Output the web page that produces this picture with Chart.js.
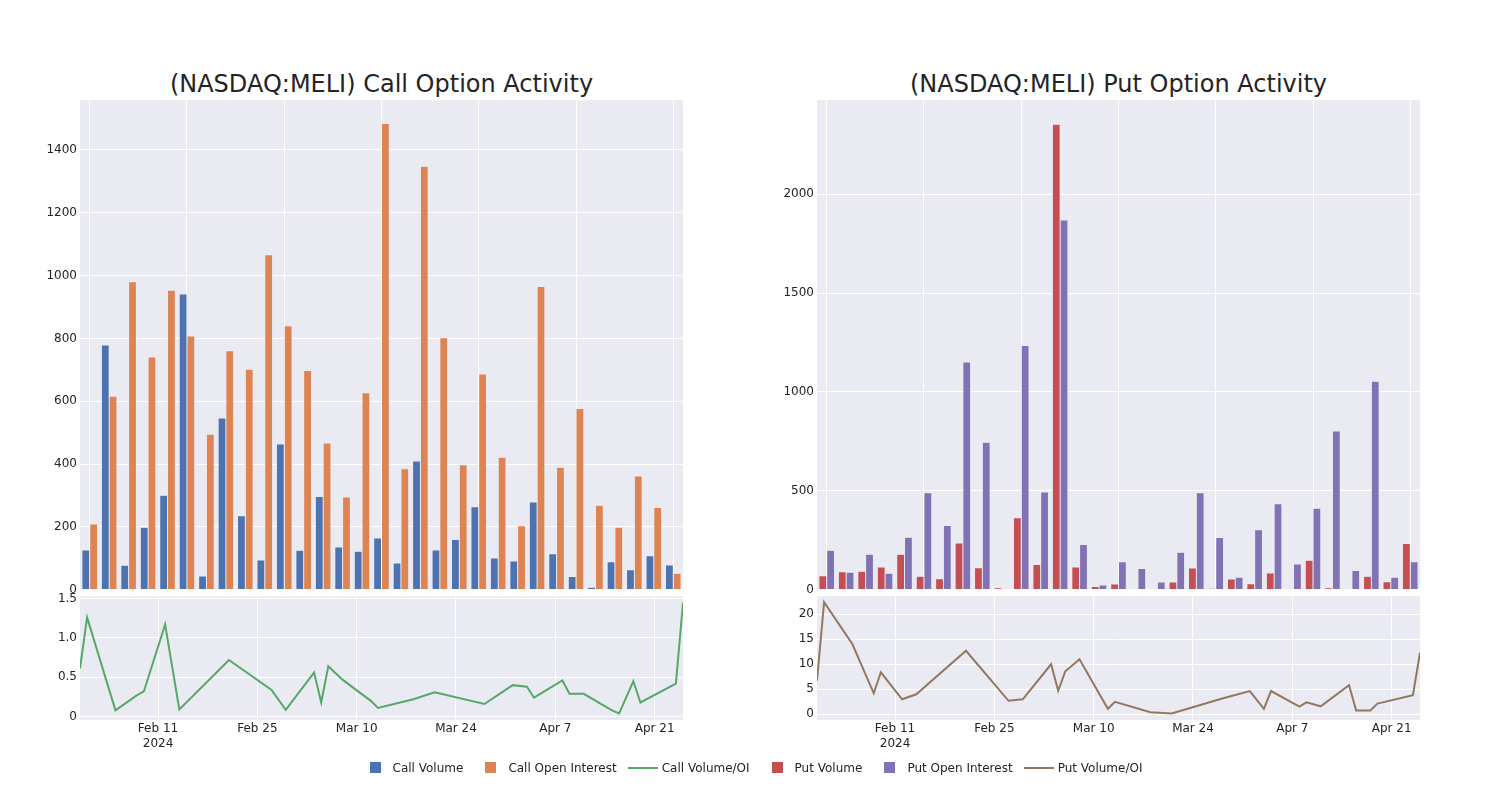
<!DOCTYPE html>
<html>
<head>
<meta charset="utf-8">
<script src="https://cdn.jsdelivr.net/npm/chart.js@4.4.1/dist/chart.umd.min.js"></script>
<style>
    body { margin: 0; background: #fff; font-family: 'DejaVu Sans', sans-serif; color: #242424; }
    #wrap { position: relative; width: 1500px; height: 800px; overflow: hidden; }
    .title { position: absolute; top: 68px; height: 32px; line-height: 32px; font-size: 24px; text-align: center; color: #242424; white-space: nowrap; }
    canvas { position: absolute; }
    #legend { position: absolute; top: 758px; left: 0; width: 1500px; height: 20px; display: flex; justify-content: center; font-size: 12px; }
    .item { display: flex; align-items: center; margin-right: 5px; }
    .icon { position: relative; width: 40px; height: 20px; }
    .sq { position: absolute; left: 17px; top: 4px; width: 11px; height: 11px; }
    .ln { position: absolute; left: 6px; top: 9px; width: 30px; height: 2px; }
</style>
</head>
<body>
<div id="wrap">
    <div class="title" style="left:80px;width:603px">(NASDAQ:MELI) Call Option Activity</div>
    <div class="title" style="left:817px;width:603px">(NASDAQ:MELI) Put Option Activity</div>
    <canvas id="callBar" width="700" height="510" style="left:0;top:90px"></canvas>
    <canvas id="callLine" width="700" height="180" style="left:0;top:586px"></canvas>
    <canvas id="putBar" width="700" height="510" style="left:740px;top:90px"></canvas>
    <canvas id="putLine" width="700" height="180" style="left:740px;top:586px"></canvas>
    <div id="legend"></div>
</div>
<script>
// trading days shown on both panels
const dates = ['2024-01-31', '2024-02-01', '2024-02-05', '2024-02-08', '2024-02-09', '2024-02-12',
    '2024-02-14', '2024-02-21', '2024-02-27', '2024-02-29', '2024-03-04', '2024-03-05', '2024-03-06',
    '2024-03-08', '2024-03-12', '2024-03-13', '2024-03-18', '2024-03-21', '2024-03-28', '2024-04-01',
    '2024-04-03', '2024-04-04', '2024-04-08', '2024-04-09', '2024-04-11', '2024-04-15', '2024-04-16',
    '2024-04-18', '2024-04-19', '2024-04-24', '2024-04-25'];

const callVolume = [127, 779, 78, 199, 301, 941, 44, 547, 236, 95, 464, 126, 297, 136, 123, 165,
    85, 410, 127, 160, 264, 101, 92, 279, 115, 42, 8, 89, 64, 108, 79];
const callOI = [209, 616, 980, 741, 953, 808, 495, 761, 702, 1066, 840, 698, 467, 295, 627, 1484,
    385, 1348, 802, 398, 687, 422, 204, 965, 390, 577, 269, 199, 362, 262, 53];
const callRatio = [0.61, 1.26, 0.08, 0.27, 0.32, 1.17, 0.09, 0.72, 0.34, 0.085, 0.56, 0.18, 0.64,
    0.47, 0.2, 0.11, 0.22, 0.31, 0.16, 0.4, 0.38, 0.24, 0.46, 0.29, 0.29, 0.08, 0.04, 0.45, 0.18, 0.42, 1.45];

const putVolume = [71, 91, 94, 115, 180, 69, 56, 236, 111, 10, 364, 128, 2354, 115, 17, 29,
    1, 3, 39, 110, 8, 54, 31, 85, 2, 149, 10, 1, 69, 41, 234];
const putOI = [200, 89, 180, 84, 266, 490, 325, 1151, 746, 5, 1235, 494, 1870, 229, 24, 142,
    108, 39, 190, 490, 264, 63, 303, 435, 130, 412, 803, 98, 1054, 63, 142];
const putRatio = [6.7, 22.4, 14.0, 4.2, 8.4, 3.0, 4.0, 12.7, 2.7, 3.0, 10.0, 4.7, 8.6, 11.0, 1.1,
    2.5, 0.4, 0.15, 3.1, 4.65, 1.1, 4.65, 1.55, 2.4, 1.6, 5.8, 0.75, 0.75, 2.15, 3.8, 12.3];

const dateTicks = ['2024-02-11', '2024-02-25', '2024-03-10', '2024-03-24', '2024-04-07', '2024-04-21'];
const callTicks = [0, 200, 400, 600, 800, 1000, 1200, 1400];
const putTicks = [0, 500, 1000, 1500, 2000];

const COLORS = {
    callVol: '#4C72B0', callOI: '#DD8452', callRatio: '#55A868',
    putVol: '#C44E52', putOI: '#8172B3', putRatio: '#937860'
};
const MONTHS = ['Jan', 'Feb', 'Mar', 'Apr', 'May', 'Jun', 'Jul', 'Aug', 'Sep', 'Oct', 'Nov', 'Dec'];

Chart.defaults.font.family = "'DejaVu Sans', sans-serif";
Chart.defaults.font.size = 12;
Chart.defaults.color = '#242424';
Chart.defaults.animation = false;

const dayOf = s => Date.UTC(+s.slice(0, 4), +s.slice(5, 7) - 1, +s.slice(8, 10)) / 86400000;

// grey plot background like the seaborn template
const plotBg = {
    id: 'plotBg',
    beforeDraw(chart) {
        const a = chart.chartArea, ctx = chart.ctx;
        ctx.save();
        ctx.fillStyle = '#EAEAF2';
        ctx.fillRect(a.left, a.top, a.right - a.left, a.bottom - a.top);
        ctx.restore();
    }
};

function barChart(id, vol, oi, colVol, colOI, yMax, ticks, axisWidth, padRight) {
    const ctx = document.getElementById(id).getContext('2d');
    return new Chart(ctx, {
        type: 'bar',
        data: {
            labels: dates,
            datasets: [
                { data: vol, backgroundColor: colVol, borderColor: 'rgba(234,234,242,0.8)', borderWidth: 0.5 },
                { data: oi, backgroundColor: colOI, borderColor: 'rgba(234,234,242,0.8)', borderWidth: 0.5 }
            ]
        },
        options: {
            responsive: false,
            layout: { padding: { top: 10, right: padRight, bottom: 10, left: 0 } },
            categoryPercentage: 0.8,
            barPercentage: 1.0,
            plugins: { legend: { display: false }, tooltip: { enabled: false } },
            scales: {
                x: {
                    ticks: { display: false, autoSkip: false },
                    grid: {
                        offset: false,
                        drawTicks: false,
                        color: c => (c.index % 5 === 0 ? '#ffffff' : 'rgba(0,0,0,0)')
                    },
                    border: { display: false },
                    afterFit: s => { s.height = 0; }
                },
                y: {
                    min: 0,
                    max: yMax,
                    afterBuildTicks: s => { s.ticks = ticks.map(v => ({ value: v })); },
                    ticks: { padding: 3, callback: v => String(v) },
                    grid: { color: '#ffffff', drawTicks: false },
                    border: { display: false },
                    afterFit: s => { s.width = axisWidth; }
                }
            }
        },
        plugins: [plotBg]
    });
}

function lineChart(id, ratio, color, yMin, yMax, step, axisWidth, padRight) {
    const ctx = document.getElementById(id).getContext('2d');
    const points = dates.map((d, i) => ({ x: dayOf(d), y: ratio[i] }));
    return new Chart(ctx, {
        type: 'line',
        data: {
            datasets: [{
                data: points, borderColor: color, borderWidth: 2,
                pointRadius: 0, tension: 0, fill: false
            }]
        },
        options: {
            responsive: false,
            layout: { padding: { top: 10, right: padRight, bottom: 0, left: 0 } },
            plugins: { legend: { display: false }, tooltip: { enabled: false } },
            scales: {
                x: {
                    type: 'linear',
                    min: dayOf(dates[0]),
                    max: dayOf(dates[dates.length - 1]),
                    afterBuildTicks: s => { s.ticks = dateTicks.map(d => ({ value: dayOf(d) })); },
                    ticks: {
                        padding: 2,
                        maxRotation: 0,
                        callback: (v, i) => {
                            const d = new Date(v * 86400000);
                            const lbl = MONTHS[d.getUTCMonth()] + ' ' + d.getUTCDate();
                            return i === 0 ? [lbl, String(d.getUTCFullYear())] : lbl;
                        }
                    },
                    grid: { color: '#ffffff', drawTicks: false },
                    border: { display: false },
                    afterFit: s => { s.height = 46; }
                },
                y: {
                    min: yMin,
                    max: yMax,
                    ticks: { stepSize: step, includeBounds: false, padding: 3 },
                    grid: { color: '#ffffff', drawTicks: false },
                    border: { display: false },
                    afterFit: s => { s.width = axisWidth; }
                }
            }
        },
        plugins: [plotBg]
    });
}

barChart('callBar', callVolume, callOI, COLORS.callVol, COLORS.callOI, 1558, callTicks, 80, 17);
lineChart('callLine', callRatio, COLORS.callRatio, -0.043, 1.53, 0.5, 80, 17);
barChart('putBar', putVolume, putOI, COLORS.putVol, COLORS.putOI, 2475, putTicks, 77, 20);
lineChart('putLine', putRatio, COLORS.putRatio, -1.14, 23.6, 5, 77, 20);

// shared legend
const legendItems = [
    ['Call Volume', COLORS.callVol, 'sq'], ['Call Open Interest', COLORS.callOI, 'sq'],
    ['Call Volume/OI', COLORS.callRatio, 'ln'], ['Put Volume', COLORS.putVol, 'sq'],
    ['Put Open Interest', COLORS.putOI, 'sq'], ['Put Volume/OI', COLORS.putRatio, 'ln']
];
const legend = document.getElementById('legend');
legendItems.forEach(([name, color, kind]) => {
    const item = document.createElement('div');
    item.className = 'item';
    item.innerHTML = '<div class="icon"><div class="' + kind + '" style="background:' + color + '"></div></div><span>' + name + '</span>';
    legend.appendChild(item);
});
</script>
</body>
</html>
